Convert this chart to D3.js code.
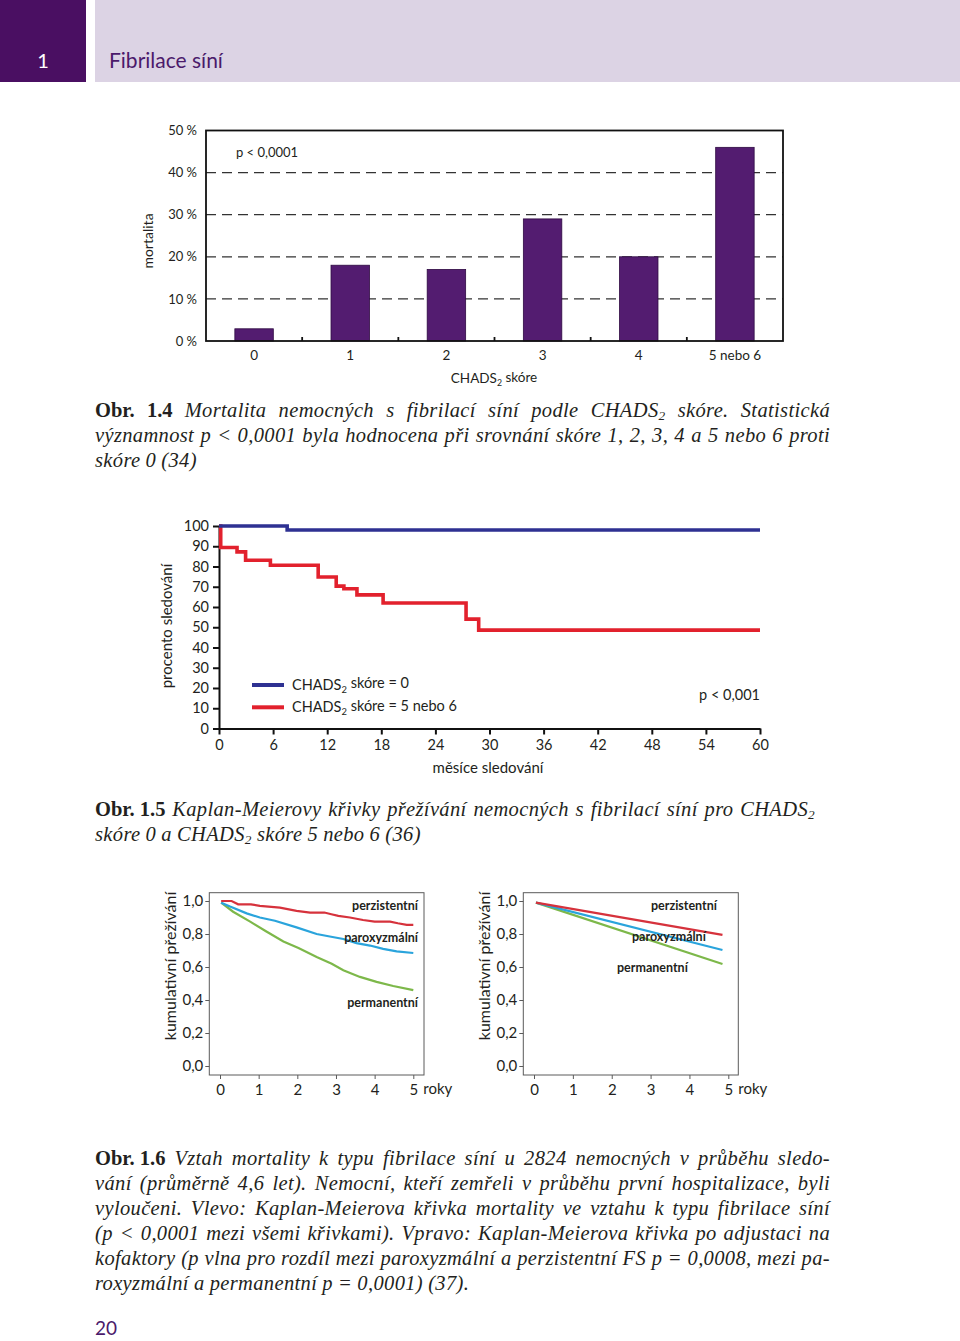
<!DOCTYPE html>
<html><head><meta charset="utf-8">
<script src="https://cdn.jsdelivr.net/npm/d3@7"></script>
<style>body{margin:0;background:#fff} svg{display:block}</style>
</head><body>
<script>
// ---------------- data ----------------
const headerNumber = "1";
const headerTitle = "Fibrilace síní";
const pageNumber = "20";

// Obr. 1.4
const barCategories = ["0", "1", "2", "3", "4", "5 nebo 6"];
const barMortality = [2.9, 18, 17, 29, 20, 46];
const barTicks = [0, 10, 20, 30, 40, 50];
const barGridTicks = [10, 20, 30, 40];

// Obr. 1.5
const kmMonthsScore0 = [0, 7.56, 60];
const kmSurvScore0 = [100, 98, 98];
const kmMonthsScore56 = [0, 0.19, 2.0, 2.95, 5.7, 11.0, 13.0, 13.85, 15.3, 18.2, 27.4, 28.8, 60];
const kmSurvScore56 = [100, 89.4, 87.2, 83.1, 80.6, 74.8, 70.3, 69.0, 66.0, 62.0, 54.0, 48.6, 48.6];
const kmYTicks = [0, 10, 20, 30, 40, 50, 60, 70, 80, 90, 100];
const kmXTicks = [0, 6, 12, 18, 24, 30, 36, 42, 48, 54, 60];
const kmLegend = ["CHADS_2 skóre = 0", "CHADS_2 skóre = 5 nebo 6"];

// Obr. 1.6 left (unadjusted)
const leftYearsPerz = [0.03, 0.3, 0.47, 0.8, 1.03, 1.55, 1.98, 2.33, 2.7, 2.88, 3.06, 3.36, 3.7, 4.0, 4.4, 4.6, 4.83, 5.0];
const leftSurvPerz = [1.0, 1.0, 0.98, 0.98, 0.97, 0.96, 0.94, 0.93, 0.93, 0.92, 0.91, 0.90, 0.885, 0.875, 0.875, 0.865, 0.855, 0.855];
const leftYearsParox = [0.03, 0.26, 0.69, 1.03, 1.42, 1.98, 2.5, 2.84, 3.19, 3.53, 3.88, 4.22, 4.57, 5.0];
const leftSurvParox = [0.99, 0.966, 0.925, 0.90, 0.88, 0.84, 0.80, 0.785, 0.77, 0.745, 0.73, 0.71, 0.695, 0.685];
const leftYearsPerm = [0.03, 0.34, 0.78, 1.2, 1.64, 2.03, 2.5, 2.89, 3.19, 3.62, 4.05, 4.48, 5.0];
const leftSurvPerm = [0.99, 0.935, 0.875, 0.815, 0.755, 0.715, 0.66, 0.62, 0.58, 0.54, 0.51, 0.485, 0.46];
// Obr. 1.6 right (adjusted)
const rightYears = [0.05, 4.85];
const rightSurvPerz = [0.99, 0.795];
const rightSurvParox = [0.99, 0.703];
const rightSurvPerm = [0.99, 0.618];
const survTicks = [0, 0.2, 0.4, 0.6, 0.8, 1.0];
const yearTicks = [0, 1, 2, 3, 4, 5];

// captions (§ = bold token, _x = subscript)
const caption14 = [
  "§Obr. §1.4 Mortalita nemocných s fibrilací síní podle CHADS_2 skóre. Statistická",
  "významnost p < 0,0001 byla hodnocena při srovnání skóre 1, 2, 3, 4 a 5 nebo 6 proti",
  "skóre 0 (34)"
];
const caption15 = [
  "§Obr.\u00a01.5 Kaplan-Meierovy křivky přežívání nemocných s fibrilací síní pro CHADS_2",
  "skóre 0 a CHADS_2 skóre 5 nebo 6 (36)"
];
const caption16 = [
  "§Obr.\u00a01.6 Vztah mortality k typu fibrilace síní u 2824 nemocných v průběhu sledo-",
  "vání (průměrně 4,6 let). Nemocní, kteří zemřeli v průběhu první hospitalizace, byli",
  "vyloučeni. Vlevo: Kaplan-Meierova křivka mortality ve vztahu k typu fibrilace síní",
  "(p < 0,0001 mezi všemi křivkami). Vpravo: Kaplan-Meierova křivka po adjustaci na",
  "kofaktory (p vlna pro rozdíl mezi paroxyzmální a perzistentní FS p = 0,0008, mezi pa-",
  "roxyzmální a permanentní p = 0,0001) (37)."
];

// ---------------- drawing ----------------
const SANS = "Lato, 'Noto Sans', sans-serif";
const SERIF = "'Liberation Serif', 'DejaVu Serif', serif";
const INK = "#231f20";

const svg = d3.select("body").append("svg").attr("width", 960).attr("height", 1341)
  .style("background", "#fff");

// helper: text with _x subscripts
function richText(sel, str, subShift) {
  const parts = str.split("_");
  sel.append("tspan").text(parts[0]);
  for (let i = 1; i < parts.length; i++) {
    sel.append("tspan").attr("font-size", "0.65em").attr("dy", subShift || "0.3em").text(parts[i][0]);
    sel.append("tspan").attr("dy", "-" + (subShift || "0.3em")).text(parts[i].slice(1));
  }
  return sel;
}

// header
svg.append("rect").attr("x", 0).attr("y", 0).attr("width", 86).attr("height", 82).attr("fill", "#4a0f62");
svg.append("rect").attr("x", 95).attr("y", 0).attr("width", 865).attr("height", 82).attr("fill", "#dcd3e4");
svg.append("text").attr("x", 43).attr("y", 68).attr("text-anchor", "middle").attr("fill", "#fff")
  .attr("font-family", SANS).attr("font-size", 20).text(headerNumber);
svg.append("text").attr("x", 109).attr("y", 68).attr("fill", "#4b1a6b")
  .attr("font-family", SANS).attr("font-size", 21).text(headerTitle);

// ---------- Obr. 1.4 bar chart ----------
{
  const L = 206, R = 783;
  const bx = d3.scaleBand().domain(barCategories).range([L, R]).paddingInner(0.6).paddingOuter(0.3);
  const by = d3.scaleLinear().domain([0, 50]).range([341, 130.5]);
  const g = svg.append("g");
  g.selectAll("line.grid").data(barGridTicks).join("line")
    .attr("x1", L).attr("x2", R).attr("y1", d => by(d)).attr("y2", d => by(d))
    .attr("stroke", "#333").attr("stroke-width", 1.3).attr("stroke-dasharray", "10,6");
  g.selectAll("rect.bar").data(barCategories).join("rect")
    .attr("x", d => bx(d)).attr("width", bx.bandwidth())
    .attr("y", (d, i) => by(barMortality[i])).attr("height", (d, i) => by(0) - by(barMortality[i]))
    .attr("fill", "#531c70").attr("stroke", "#2e0a42").attr("stroke-width", 0.8);
  g.append("rect").attr("x", L).attr("y", by(50)).attr("width", R - L).attr("height", by(0) - by(50))
    .attr("fill", "none").attr("stroke", "#111").attr("stroke-width", 1.8);
  const bounds = barCategories.slice(1).map(c => bx(c) - bx.step() * bx.paddingInner() / 2);
  g.selectAll("line.btick").data(bounds).join("line")
    .attr("x1", d => d).attr("x2", d => d).attr("y1", by(0)).attr("y2", by(0) - 4)
    .attr("stroke", "#111").attr("stroke-width", 1.8);
  const ya = g.append("g").attr("transform", `translate(${L},0)`)
    .call(d3.axisLeft(by).tickValues(barTicks).tickFormat(d => d + " %").tickSize(0).tickPadding(9));
  ya.select(".domain").remove();
  ya.selectAll("text").attr("font-family", SANS).attr("font-size", 13).attr("fill", INK);
  const xa = g.append("g").attr("transform", `translate(0,${by(0)})`)
    .call(d3.axisBottom(bx).tickSize(0).tickPadding(9));
  xa.select(".domain").remove();
  xa.selectAll("text").attr("font-family", SANS).attr("font-size", 13.5).attr("fill", INK);
  richText(g.append("text").attr("x", 494).attr("y", 383).attr("text-anchor", "middle")
    .attr("font-family", SANS).attr("font-size", 13.5).attr("fill", INK), "CHADS_2 skóre");
  g.append("text").attr("transform", "translate(153,241) rotate(-90)").attr("text-anchor", "middle")
    .attr("font-family", SANS).attr("font-size", 14).attr("fill", INK).text("mortalita");
  g.append("text").attr("x", 236).attr("y", 157).attr("font-family", SANS).attr("font-size", 13)
    .attr("fill", INK).text("p < 0,0001");
}

// ---------- Obr. 1.5 KM chart ----------
{
  const kx = d3.scaleLinear().domain([0, 60]).range([219, 760]);
  const ky = d3.scaleLinear().domain([0, 100]).range([728.5, 526]);
  const g = svg.append("g");
  const ya = g.append("g").attr("transform", `translate(${kx(0)},0)`)
    .call(d3.axisLeft(ky).tickValues(kmYTicks).tickSize(6).tickSizeOuter(0).tickPadding(4));
  const xa = g.append("g").attr("transform", `translate(0,${ky(0)})`)
    .call(d3.axisBottom(kx).tickValues(kmXTicks).tickSize(6).tickSizeOuter(0).tickPadding(5));
  [ya, xa].forEach(a => {
    a.selectAll("path,line").attr("stroke", "#111").attr("stroke-width", 2);
    a.selectAll("text").attr("font-family", SANS).attr("font-size", 14.5).attr("fill", INK);
  });
  const line = d3.line().x(d => kx(d[0])).y(d => ky(d[1])).curve(d3.curveStepAfter);
  g.append("path").attr("d", line(kmMonthsScore56.map((m, i) => [m, kmSurvScore56[i]])))
    .attr("fill", "none").attr("stroke", "#e2212d").attr("stroke-width", 3.6);
  g.append("path").attr("d", line(kmMonthsScore0.map((m, i) => [m, kmSurvScore0[i]])))
    .attr("fill", "none").attr("stroke", "#2e3192").attr("stroke-width", 3.6);
  const legCol = ["#2e3192", "#e2212d"];
  kmLegend.forEach((t, i) => {
    const y = 685 + i * 22.3;
    g.append("line").attr("x1", 252).attr("x2", 284).attr("y1", y).attr("y2", y)
      .attr("stroke", legCol[i]).attr("stroke-width", 4);
    richText(g.append("text").attr("x", 292).attr("y", y + 5).attr("font-family", SANS)
      .attr("font-size", 14.5).attr("fill", INK), t);
  });
  g.append("text").attr("x", 760).attr("y", 700).attr("text-anchor", "end").attr("font-family", SANS)
    .attr("font-size", 14.5).attr("fill", INK).text("p < 0,001");
  g.append("text").attr("transform", "translate(172,626) rotate(-90)").attr("text-anchor", "middle")
    .attr("font-family", SANS).attr("font-size", 15).attr("fill", INK).text("procento sledování");
  g.append("text").attr("x", 488).attr("y", 773).attr("text-anchor", "middle")
    .attr("font-family", SANS).attr("font-size", 15).attr("fill", INK).text("měsíce sledování");
}

// ---------- Obr. 1.6 panels ----------
function panel(opt) {
  const g = svg.append("g");
  const sx = d3.scaleLinear().domain([0, 5]).range(opt.xr);
  const sy = d3.scaleLinear().domain([0, 1]).range([1066, 901]);
  const top = 892.7, bot = 1075;
  g.append("rect").attr("x", opt.fl).attr("y", top).attr("width", opt.fr - opt.fl).attr("height", bot - top)
    .attr("fill", "none").attr("stroke", "#5a5a5a").attr("stroke-width", 1);
  const ya = g.append("g").attr("transform", `translate(${opt.fl},0)`)
    .call(d3.axisLeft(sy).tickValues(survTicks).tickFormat(d => d3.format(".1f")(d).replace(".", ","))
      .tickSize(4).tickPadding(2));
  ya.select(".domain").remove();
  const xa = g.append("g").attr("transform", `translate(0,${bot})`)
    .call(d3.axisBottom(sx).tickValues(yearTicks).tickFormat(d3.format("d")).tickSize(4).tickPadding(5));
  xa.select(".domain").remove();
  [ya, xa].forEach(a => {
    a.selectAll("line").attr("stroke", "#5a5a5a").attr("stroke-width", 1);
    a.selectAll("text").attr("font-family", SANS).attr("font-size", 15).attr("fill", INK);
  });
  g.append("text").attr("x", sx(5) + 10).attr("y", 1094).attr("font-family", SANS).attr("font-size", 15)
    .attr("fill", INK).text("roky");
  const line = d3.line().x(d => sx(d[0])).y(d => sy(d[1]));
  opt.series.forEach(s => {
    g.append("path").attr("d", line(s.t.map((t, i) => [t, s.v[i]])))
      .attr("fill", "none").attr("stroke", s.c).attr("stroke-width", 2.2);
  });
  opt.labels.forEach(l => {
    g.append("text").attr("x", l.x).attr("y", l.y).attr("text-anchor", l.a)
      .attr("font-family", SANS).attr("font-weight", "bold").attr("font-size", 12.5)
      .attr("fill", INK).text(l.t);
  });
  g.append("text").attr("transform", `translate(${opt.ylx},966) rotate(-90)`).attr("text-anchor", "middle")
    .attr("font-family", SANS).attr("font-size", 16).attr("fill", INK).text("kumulativní přežívání");
}
const RED = "#d6323c", BLUE = "#2aa4dc", GREEN = "#7db84a";
panel({
  fl: 209.3, fr: 424, xr: [220, 413.3], ylx: 176,
  series: [
    { t: leftYearsPerm, v: leftSurvPerm, c: GREEN },
    { t: leftYearsParox, v: leftSurvParox, c: BLUE },
    { t: leftYearsPerz, v: leftSurvPerz, c: RED }
  ],
  labels: [
    { t: "perzistentní", x: 418, y: 910, a: "end" },
    { t: "paroxyzmální", x: 418, y: 942, a: "end" },
    { t: "permanentní", x: 418, y: 1007, a: "end" }
  ]
});
panel({
  fl: 523.3, fr: 738.3, xr: [534, 728.3], ylx: 490,
  series: [
    { t: rightYears, v: rightSurvPerm, c: GREEN },
    { t: rightYears, v: rightSurvParox, c: BLUE },
    { t: rightYears, v: rightSurvPerz, c: RED }
  ],
  labels: [
    { t: "perzistentní", x: 651, y: 910, a: "start" },
    { t: "paroxyzmální", x: 632, y: 941, a: "start" },
    { t: "permanentní", x: 617, y: 972, a: "start" }
  ]
});

// ---------- captions (justified) ----------
function paragraph(lines, y0, widths) {
  const FS = 20.5, LH = 25, X0 = 95, LS = 0.35;
  lines.forEach((ln, li) => {
    const y = y0 + li * LH;
    const g = svg.append("g");
    const words = ln.split(" ");
    const nodes = words.map(w => {
      const bold = w.startsWith("§");
      const txt = bold ? w.slice(1) : w;
      const t = g.append("text").attr("y", y).attr("font-family", SERIF).attr("font-size", FS)
        .attr("fill", INK).attr("letter-spacing", bold ? 0 : LS)
        .attr("font-style", bold ? "normal" : "italic").attr("font-weight", bold ? "bold" : "normal");
      richText(t, txt, "0.25em");
      return t;
    });
    const ws = nodes.map(n => n.node().getComputedTextLength());
    const sum = d3.sum(ws);
    const W = widths[li];
    const gap = W ? (W - sum) / (words.length - 1) : FS * 0.25;
    let x = X0;
    nodes.forEach((n, i) => { n.attr("x", x); x += ws[i] + gap; });
  });
}
paragraph(caption14, 417, [735, 735, 0]);
paragraph(caption15, 816, [720, 0]);
paragraph(caption16, 1165, [735, 735, 735, 735, 735, 0]);

svg.append("text").attr("x", 95).attr("y", 1335).attr("font-family", SANS).attr("font-size", 19)
  .attr("fill", "#4b1a6b").text(pageNumber);
</script>
</body></html>
